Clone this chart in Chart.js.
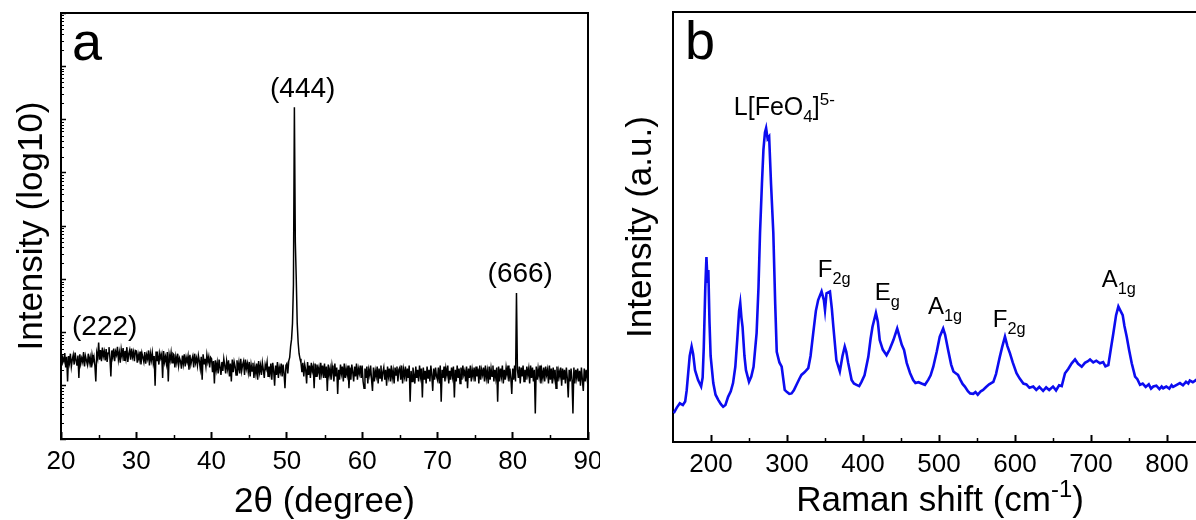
<!DOCTYPE html>
<html>
<head>
<meta charset="utf-8">
<script src="https://cdn.jsdelivr.net/npm/chart.js@4.4.1/dist/chart.umd.min.js"></script>
<style>
  html, body { margin: 0; padding: 0; background: #fff; overflow: hidden; }
  #wrap { position: relative; width: 1196px; height: 520px; overflow: hidden; }
  #xrdChart { position: absolute; left: 0; top: 0; }
  #ramanChart { position: absolute; left: 600px; top: 0; }
</style>
</head>
<body>
<div id="wrap">
  <canvas id="xrdChart" width="600" height="520"></canvas>
  <canvas id="ramanChart" width="610" height="520"></canvas>
</div>
<script>
const FONT = "Arial, 'Liberation Sans', sans-serif";

// ---- panel a : XRD (counts, every 0.125 deg from 20 to 90) ----
const xrdStart = 20;
const xrdStep = 0.125;
const xrdCounts = [
  // 20 - 25
  38, 24, 33, 29, 41, 22, 35, 12, 36, 27, 40, 23, 31, 38, 25, 42, 30, 24, 37, 14,
  39, 26, 33, 28, 43, 23, 36, 30, 25, 40, 27, 34, 22, 38, 29, 35, 24, 12, 41, 33,
  // 25 - 30
  65, 31, 47, 29, 52, 36, 44, 30, 49, 28, 41, 53, 33, 15, 46, 35, 50, 29, 44, 38,
  54, 31, 42, 27, 48, 36, 51, 30, 45, 33, 53, 28, 40, 47, 31, 50, 35, 43, 29, 46,
  // 30 - 35
  45, 27, 39, 31, 44, 25, 41, 34, 28, 43, 26, 38, 32, 46, 24, 40, 30, 42, 27, 36,
  10, 44, 29, 37, 25, 41, 33, 39, 14, 45, 28, 35, 26, 43, 12, 38, 30, 42, 27, 40,
  // 35 - 40
  38, 22, 35, 27, 40, 24, 33, 29, 21, 37, 26, 39, 23, 34, 28, 36, 20, 38, 25, 31,
  36, 22, 40, 27, 33, 24, 37, 29, 21, 35, 13, 39, 26, 32, 23, 38, 28, 35, 22, 34,
  // 40 - 45
  32, 18, 29, 11, 30, 20, 27, 17, 31, 22, 16, 28, 19, 32, 24, 17, 29, 21, 30, 15,
  26, 12, 31, 18, 28, 23, 16, 30, 20, 27, 17, 32, 19, 25, 29, 16, 31, 21, 26, 18,
  // 45 - 50
  28, 15, 25, 19, 27, 14, 23, 17, 26, 13, 29, 18, 24, 16, 27, 20, 14, 25, 21, 28,
  15, 23, 17, 26, 13, 27, 19, 10, 24, 16, 28, 14, 22, 18, 26, 15, 25, 17, 9, 24,
  // 50 - 55
  26, 17, 29, 34, 55, 75, 150, 800, 1700000, 5000, 1000, 150, 65, 40, 32, 27, 18, 27, 15, 25,
  20, 11, 28, 16, 24, 14, 27, 19, 23, 9, 26, 15, 25, 18, 22, 13, 27, 17, 24, 14,
  // 55 - 60
  26, 14, 23, 8, 25, 16, 21, 13, 24, 18, 12, 26, 15, 22, 7, 20, 13, 25, 17, 23,
  12, 26, 14, 21, 16, 24, 9, 22, 13, 25, 18, 12, 23, 15, 26, 13, 21, 17, 24, 14,
  // 60 - 65
  24, 12, 9, 21, 14, 23, 11, 20, 16, 24, 13, 8, 22, 12, 19, 15, 23, 11, 21, 14,
  24, 12, 18, 22, 13, 20, 10, 23, 15, 21, 12, 24, 14, 19, 11, 22, 16, 23, 12, 20,
  // 65 - 70
  22, 13, 24, 11, 20, 15, 23, 12, 21, 14, 24, 5, 19, 12, 22, 16, 11, 23, 14, 20,
  12, 24, 15, 21, 6, 22, 13, 19, 11, 23, 14, 20, 12, 24, 16, 8, 21, 13, 22, 15,
  // 70 - 75
  13, 22, 11, 24, 5, 20, 14, 23, 12, 21, 16, 24, 11, 19, 13, 22, 15, 23, 6, 20,
  12, 24, 14, 21, 11, 22, 13, 24, 16, 19, 12, 23, 9, 21, 14, 24, 12, 20, 15, 22,
  // 75 - 80
  12, 23, 15, 21, 11, 24, 13, 20, 16, 22, 12, 24, 14, 19, 11, 23, 13, 21, 15, 24,
  12, 20, 14, 22, 5, 23, 12, 21, 15, 24, 11, 20, 13, 22, 16, 24, 12, 21, 14, 7,
  // 80 - 85
  21, 13, 24, 12, 550, 20, 14, 23, 11, 22, 15, 24, 12, 20, 13, 23, 16, 21, 11, 24,
  14, 22, 12, 20, 3, 23, 13, 21, 15, 24, 11, 19, 14, 22, 12, 23, 16, 20, 11, 24,
  // 85 - 90
  13, 21, 11, 22, 14, 20, 9, 23, 12, 19, 15, 22, 10, 21, 13, 20, 11, 22, 14, 6,
  20, 12, 21, 13, 3, 22, 11, 20, 14, 21, 12, 19, 10, 22, 13, 8, 21, 12, 20, 14,
  20
];
const xrdTicks = [20, 30, 40, 50, 60, 70, 80, 90];
const xrdMinorTicks = [25, 35, 45, 55, 65, 75, 85];
const xrdDecades = [1, 10, 100, 1e3, 1e4, 1e5, 1e6, 1e7, 1e8];
const xrdPeakNames = ["(222)", "(444)", "(666)"];
const xrdPeakAt = [25.8, 52.1, 81.0];
const xrdPeakHeight = [89, 2.6e6, 890];

// ---- panel b : Raman ----
const ramanShift = [
  151, 155, 159, 163, 166, 168, 170, 172, 174.5, 176.5, 179, 183, 187, 189, 190.5, 192.5,
  194, 195.5, 196.5, 198, 199.5, 203, 206, 209.5, 213, 216, 219, 222.5, 226, 229, 232,
  234.5, 237, 238.5, 240, 241.5, 244, 246, 250, 253, 256, 260, 262.5, 264.5, 267, 269,
  271, 272.5, 274.5, 276.5, 279, 282, 284.5, 286.5, 290, 293, 297, 300, 303, 306, 309,
  312.5, 316, 319, 323, 328, 331, 334.5, 338, 341, 345.5, 348.5, 350, 352, 356.5, 359,
  361, 365, 369.5, 373, 376, 378, 380.5, 385, 388, 391.5, 395, 398, 402, 407, 410,
  412.5, 417, 419.5, 422, 426, 431, 435, 440, 445, 448, 451, 454, 457.5, 462, 466,
  469, 473, 477, 481.5, 486, 489, 492.5, 497, 501, 505.5, 508, 512, 516, 519, 522,
  525, 528, 531, 534, 538, 541, 545, 548, 551, 555, 558, 562, 566, 571.5, 575, 578,
  580, 583, 586.8, 590, 593.4, 597, 602, 606, 611, 615, 619, 624, 628, 632, 637, 641,
  645, 650, 654, 658, 661.5, 665.8, 670, 674.6, 679, 683, 687.8, 692, 696, 698.7, 703,
  707, 711.8, 716, 719, 722.8, 726, 729.4, 733, 736, 738.5, 741.7, 744, 747, 750,
  753.6, 758, 761, 764.5, 768, 772, 776, 779, 782, 786, 790, 793, 795, 799, 803, 806, 808, 812.8,
  817, 821, 825, 828, 830, 834, 838, 840
];
const ramanIntensity = [
  6.7, 8.0, 9.0, 8.6, 9.4, 12.0, 16.0, 20.0, 22.2, 20.5, 16.7, 14.4, 12.9, 15.0, 22, 36,
  43, 37, 40, 28, 20, 13.7, 11.0, 9.8, 8.8, 8.2, 8.6, 10.5, 11.8, 13.7, 17.5,
  23.7, 30.5, 32.3, 29, 26.8, 20, 16.7, 14, 15.2, 17.5, 25.3, 36, 48.6, 60, 68,
  72, 73, 70.5, 71, 60, 48.6, 32, 21, 18.5, 17.5, 12.1, 11.6, 11.2, 11.3, 12.0,
  13.3, 14.6, 15.6, 16.2, 17.2, 20, 25.3, 30.5, 33, 35, 33, 30.7, 34.6, 35, 31,
  26.8, 19, 16.4, 20, 22.2, 21, 18.4, 14.4, 13.6, 13.3, 13.0, 14, 15.5, 19.8, 24,
  26.8, 30, 28, 23.7, 21.5, 20.2, 21.5, 23.7, 26.4, 24.5, 22.6, 21.4, 18.4, 16, 14.4,
  13.7, 13.9, 13.6, 13.3, 14.5, 15.5, 17.5, 21, 24.5, 26.4, 25, 21.4, 18, 16.4, 16.0,
  15.6, 14.5, 13.5, 12.9, 11.8, 11.3, 11.2, 11.6, 11.0, 11.8, 12.1, 12.8, 13.4, 14, 15.8, 18.2,
  19.8, 22, 24.5, 22.3, 20.6, 18.5, 16, 14.8, 13.6, 13.4, 12.6, 12.9, 12.1, 12.8, 11.9, 12.7,
  12.1, 12.9, 12.0, 13.2, 13.0, 16, 17, 18.3, 19.2, 18.2, 17.5, 18.4, 18.8, 19.2, 18.5,
  18.9, 18.3, 18.6, 17.6, 17.9, 21.5, 25.3, 29.5, 31.5, 30.6, 29.5, 27, 24.5, 21.5,
  18.3, 15.2, 14.6, 13.3, 13.6, 12.8, 13.4, 12.4, 12.9, 13.1, 12.3, 12.9, 12.5, 12.9, 12.4, 13.2, 12.8, 13.3,
  13.7, 13.2, 14.0, 13.6, 14.3, 13.9, 14.4, 14.2
];
const ramanTicks = [200, 300, 400, 500, 600, 700, 800];
const ramanMinorTicks = [250, 350, 450, 550, 650, 750];
// label text pieces: [text, "" | "sub" | "sup"]
const ramanBandNames = [
  [["L[FeO", ""], ["4", "sub"], ["]", ""], ["5-", "sup"]],
  [["F", ""], ["2g", "sub"]],
  [["E", ""], ["g", "sub"]],
  [["A", ""], ["1g", "sub"]],
  [["F", ""], ["2g", "sub"]],
  [["A", ""], ["1g", "sub"]]
];
const ramanBandAt = [230, 340.5, 415.5, 485.5, 570.8, 714];
const ramanBandHeight = [76, 38.4, 33, 29.8, 26.7, 36];

// text with sub/superscript pieces, left aligned at baseline
function richWidth(ctx, parts, size) {
  let w = 0;
  parts.forEach(([t, kind]) => {
    ctx.font = `${kind ? size * 0.68 : size}px ${FONT}`;
    w += ctx.measureText(t).width;
  });
  return w;
}
function drawRich(ctx, parts, x, y, size) {
  let cx = x;
  parts.forEach(([t, kind]) => {
    const s = kind ? size * 0.68 : size;
    ctx.font = `${s}px ${FONT}`;
    const dy = kind === "sub" ? size * 0.28 : kind === "sup" ? -size * 0.4 : 0;
    ctx.fillText(t, cx, y + dy);
    cx += ctx.measureText(t).width;
  });
}

const panelDecor = {
  id: "panelDecor",
  afterDraw(chart, args, opts) {
    const { ctx, chartArea: a, scales } = chart;
    ctx.save();
    ctx.strokeStyle = "#000";
    ctx.lineWidth = 2;
    // top and right edges of the box
    ctx.beginPath();
    ctx.moveTo(a.left, a.top);
    ctx.lineTo(a.right, a.top);
    ctx.lineTo(a.right, a.bottom);
    ctx.stroke();

    // minor ticks on x
    ctx.lineWidth = 1.5;
    ctx.beginPath();
    opts.xMinor.forEach(v => {
      const px = Math.round(scales.x.getPixelForValue(v)) + 0.5;
      ctx.moveTo(px, a.bottom);
      ctx.lineTo(px, a.bottom - 4);
    });
    ctx.stroke();

    // minor ticks on log y
    if (opts.yMinor) {
      ctx.lineWidth = 1;
      ctx.beginPath();
      opts.yMinor.forEach(v => {
        const py = Math.round(scales.y.getPixelForValue(v)) + 0.5;
        ctx.moveTo(a.left, py);
        ctx.lineTo(a.left + 3, py);
      });
      ctx.stroke();
    }

    // panel letter
    ctx.fillStyle = "#000";
    ctx.textBaseline = "alphabetic";
    ctx.textAlign = "left";
    ctx.font = `54px ${FONT}`;
    ctx.fillText(opts.letter, a.left + opts.letterDx, a.top + 47);

    // peak labels
    opts.labels.forEach(l => {
      const px = scales.x.getPixelForValue(l.x);
      const py = scales.y.getPixelForValue(l.y);
      if (l.center) {
        ctx.textAlign = "center";
        ctx.font = `${opts.labelSize}px ${FONT}`;
        ctx.fillText(l.parts[0][0], px, py);
        ctx.textAlign = "left";
      } else {
        drawRich(ctx, l.parts, px, py, l.size || opts.labelSize);
      }
    });

    // custom x title (with superscript)
    if (opts.xTitle) {
      const w = richWidth(ctx, opts.xTitle, 35);
      drawRich(ctx, opts.xTitle, opts.xTitleCenter - w / 2, 511, 35);
    }
    ctx.restore();
  }
};

const tickFont = { family: FONT, size: 26 };
const titleFont = { family: FONT, size: 35, lineHeight: 1 };
const noSidePad = s => { s.paddingLeft = 0; s.paddingRight = 0; };

// ---- chart a ----
const xrdPoints = xrdCounts.map((c, i) => ({ x: xrdStart + i * xrdStep, y: c }));
const xrdMinorY = [];
xrdDecades.slice(0, -1).forEach(d => {
  for (let k = 2; k <= 9; k++) xrdMinorY.push(k * d);
});

new Chart(document.getElementById("xrdChart"), {
  type: "line",
  data: {
    datasets: [{
      data: xrdPoints,
      borderColor: "#000",
      borderWidth: 1.5,
      pointRadius: 0,
      tension: 0
    }]
  },
  options: {
    responsive: false,
    animation: false,
    events: [],
    layout: { padding: { top: 13, right: 12, left: 0, bottom: 0 } },
    plugins: {
      legend: { display: false },
      tooltip: { enabled: false },
      panelDecor: {
        letter: "a",
        letterDx: 11,
        labelSize: 28,
        xMinor: xrdMinorTicks,
        yMinor: xrdMinorY,
        labels: xrdPeakNames.map((n, i) => ({
          parts: [[n, ""]], x: xrdPeakAt[i], y: xrdPeakHeight[i], center: true
        }))
      }
    },
    scales: {
      x: {
        type: "linear",
        min: 20,
        max: 90,
        afterBuildTicks: s => { s.ticks = xrdTicks.map(v => ({ value: v })); },
        afterFit: s => { s.height = 81; noSidePad(s); },
        grid: { drawOnChartArea: false, tickLength: -7, tickWidth: 2, tickColor: "#000" },
        border: { display: true, color: "#000", width: 2 },
        ticks: { color: "#000", font: tickFont, padding: 14, maxRotation: 0 },
        title: {
          display: true, text: "2θ (degree)", color: "#000",
          font: titleFont, padding: { top: 0, bottom: 0 }
        }
      },
      y: {
        type: "logarithmic",
        min: 1,
        max: 1e8,
        afterBuildTicks: s => { s.ticks = xrdDecades.map(v => ({ value: v })); },
        afterFit: s => { s.width = 61; },
        grid: { drawOnChartArea: false, tickLength: -5, tickWidth: 1.5, tickColor: "#000" },
        border: { display: true, color: "#000", width: 2 },
        ticks: { display: false },
        title: {
          display: true, text: "Intensity (log10)", color: "#000",
          font: titleFont, padding: { top: 15, bottom: 0 }
        }
      }
    }
  },
  plugins: [panelDecor]
});

// ---- chart b ----
new Chart(document.getElementById("ramanChart"), {
  type: "line",
  data: {
    datasets: [{
      data: ramanShift.map((s, i) => ({ x: s, y: ramanIntensity[i] })),
      borderColor: "#0c0cf0",
      borderWidth: 2.6,
      pointRadius: 0,
      tension: 0
    }]
  },
  options: {
    responsive: false,
    animation: false,
    events: [],
    layout: { padding: { top: 12, right: 12.6, left: 0, bottom: 0 } },
    plugins: {
      legend: { display: false },
      tooltip: { enabled: false },
      panelDecor: {
        letter: "b",
        letterDx: 12,
        labelSize: 24,
        xMinor: ramanMinorTicks,
        labels: ramanBandNames.map((p, i) => ({
          parts: p, x: ramanBandAt[i], y: ramanBandHeight[i], size: i === 0 ? 25 : 24
        })),
        xTitle: [["Raman shift (cm", ""], ["-1", "sup"], [")", ""]],
        xTitleCenter: 340
      }
    },
    scales: {
      x: {
        type: "linear",
        min: 150,
        max: 840,
        afterBuildTicks: s => { s.ticks = ramanTicks.map(v => ({ value: v })); },
        afterFit: s => { s.height = 78; noSidePad(s); },
        grid: { drawOnChartArea: false, tickLength: -7, tickWidth: 2, tickColor: "#000" },
        border: { display: true, color: "#000", width: 2 },
        ticks: { color: "#000", font: tickFont, padding: 14, maxRotation: 0 },
        title: { display: false }
      },
      y: {
        type: "linear",
        min: 0,
        max: 100,
        afterFit: s => { s.width = 73; },
        grid: { display: false },
        border: { display: true, color: "#000", width: 2 },
        ticks: { display: false },
        title: {
          display: true, text: "Intensity (a.u.)", color: "#000",
          font: titleFont, padding: { top: 24, bottom: 0 }
        }
      }
    }
  },
  plugins: [panelDecor]
});
</script>
</body>
</html>
